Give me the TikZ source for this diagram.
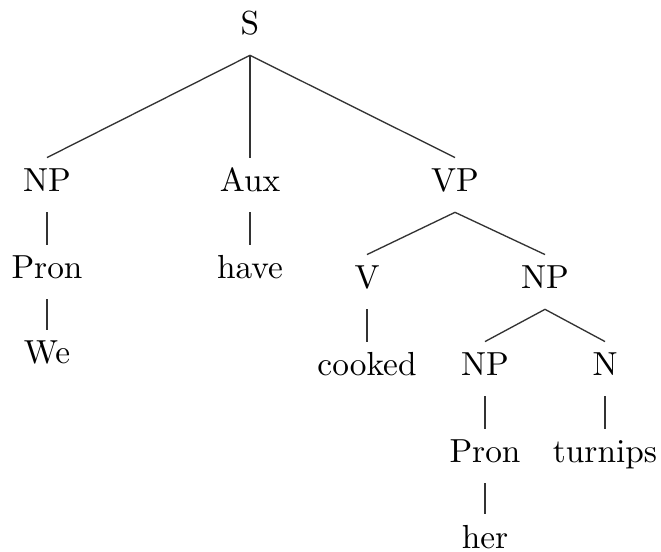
\documentclass[tikz,border=0pt]{standalone}
\begin{document}
\begin{tikzpicture}[x=0.3pt,y=-0.3pt,
  lab/.style={anchor=base, inner xsep=0pt, inner ysep=3.3pt, text height=6.83pt, text depth=2.6pt},
  branch/.style={draw, line width=0.4pt, black!80}]
\useasboundingbox (0,0) rectangle (661,552);
\node[lab] (S) at (250,35) {S};
\node[lab] (np1) at (47,192) {NP};
\node[lab] (aux) at (250,192) {Aux};
\node[lab] (vp) at (455,192) {VP};
\node[lab] (pron1) at (47,279) {Pron};
\node[lab] (have) at (250,279) {have};
\node[lab] (v) at (367,289) {V};
\node[lab] (np2) at (545,289) {NP};
\node[lab] (we) at (47,364) {We};
\node[lab] (cooked) at (367,376) {cooked};
\node[lab] (np3) at (485,376) {NP};
\node[lab] (n) at (605,376) {N};
\node[lab] (pron2) at (485,463) {Pron};
\node[lab] (turnips) at (605,463) {turnips};
\node[lab] (her) at (485,548) {her};
\path[branch] (S.south) -- (np1.north);
\path[branch] (S.south) -- (aux.north);
\path[branch] (S.south) -- (vp.north);
\path[branch] (np1.south) -- (pron1.north);
\path[branch] (pron1.south) -- (we.north);
\path[branch] (aux.south) -- (have.north);
\path[branch] (vp.south) -- (v.north);
\path[branch] (vp.south) -- (np2.north);
\path[branch] (v.south) -- (cooked.north);
\path[branch] (np2.south) -- (np3.north);
\path[branch] (np2.south) -- (n.north);
\path[branch] (np3.south) -- (pron2.north);
\path[branch] (n.south) -- (turnips.north);
\path[branch] (pron2.south) -- (her.north);
\end{tikzpicture}
\end{document}
